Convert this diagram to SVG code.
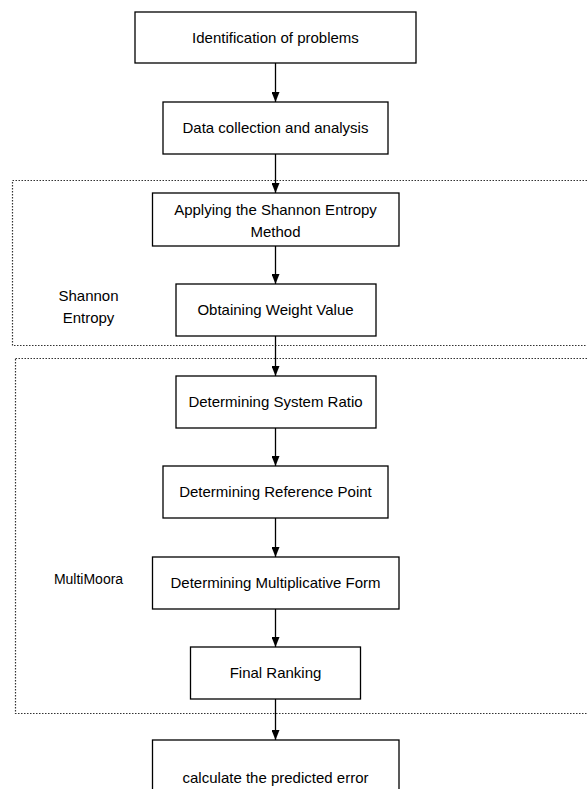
<svg xmlns="http://www.w3.org/2000/svg" width="587" height="789" viewBox="0 0 587 789">
<style>
.box{fill:#fff;stroke:#000;stroke-width:1.3}
.grp{fill:none;stroke:#333;stroke-width:1.2;stroke-dasharray:1.5 1.5}
.t{font-family:"Liberation Sans",Arial,sans-serif;font-size:15px;fill:#000;text-anchor:middle}
.s{font-size:14px}
.c{stroke:#000;stroke-width:1.3;fill:none}
</style>
<defs>
<marker id="ah" markerUnits="userSpaceOnUse" markerWidth="10" markerHeight="8" refX="10" refY="4" orient="auto">
<path d="M0,0 L10,4 L0,8 z" fill="#000"/>
</marker>
</defs>
<rect width="587" height="789" fill="#fff"/>
<g id="group-shannon">
<rect class="grp" x="12.5" y="180.5" width="600" height="165"/>
<text class="t" x="88.5" y="301">Shannon</text>
<text class="t" x="88.5" y="323">Entropy</text>
</g>
<g id="group-multimoora">
<rect class="grp" x="15.5" y="358.5" width="600" height="355"/>
<text class="t s" x="88.5" y="584">MultiMoora</text>
</g>
<g id="connectors">
<line class="c" x1="275.5" y1="63" x2="275.5" y2="102" marker-end="url(#ah)"/>
<line class="c" x1="275.5" y1="154" x2="275.5" y2="193" marker-end="url(#ah)"/>
<line class="c" x1="275.5" y1="246" x2="275.5" y2="284" marker-end="url(#ah)"/>
<line class="c" x1="275.5" y1="336" x2="275.5" y2="376" marker-end="url(#ah)"/>
<line class="c" x1="275.5" y1="428" x2="275.5" y2="466" marker-end="url(#ah)"/>
<line class="c" x1="275.5" y1="518" x2="275.5" y2="557" marker-end="url(#ah)"/>
<line class="c" x1="275.5" y1="609" x2="275.5" y2="647" marker-end="url(#ah)"/>
<line class="c" x1="275.5" y1="699" x2="275.5" y2="740" marker-end="url(#ah)"/>
</g>
<g id="n1"><rect class="box" x="135" y="12" width="281" height="51"/><text class="t" x="275.5" y="43">Identification of problems</text></g>
<g id="n2"><rect class="box" x="163" y="102" width="225" height="52"/><text class="t" x="275.5" y="133">Data collection and analysis</text></g>
<g id="n3"><rect class="box" x="152.5" y="193" width="246.5" height="53"/><text class="t" x="275.5" y="215">Applying the Shannon Entropy</text><text class="t" x="275.5" y="237">Method</text></g>
<g id="n4"><rect class="box" x="176" y="284" width="200" height="52"/><text class="t" x="275.5" y="315">Obtaining Weight Value</text></g>
<g id="n5"><rect class="box" x="176" y="376" width="200" height="52"/><text class="t" x="275.5" y="407">Determining System Ratio</text></g>
<g id="n6"><rect class="box" x="163" y="466" width="225" height="52"/><text class="t" x="275.5" y="497">Determining Reference Point</text></g>
<g id="n7"><rect class="box" x="152.5" y="557" width="246.5" height="52"/><text class="t" x="275.5" y="588">Determining Multiplicative Form</text></g>
<g id="n8"><rect class="box" x="190.5" y="647" width="170" height="52"/><text class="t" x="275.5" y="678">Final Ranking</text></g>
<g id="n9"><rect class="box" x="152.5" y="740" width="246.5" height="60"/><text class="t" x="275.5" y="783">calculate the predicted error</text></g>
</svg>
